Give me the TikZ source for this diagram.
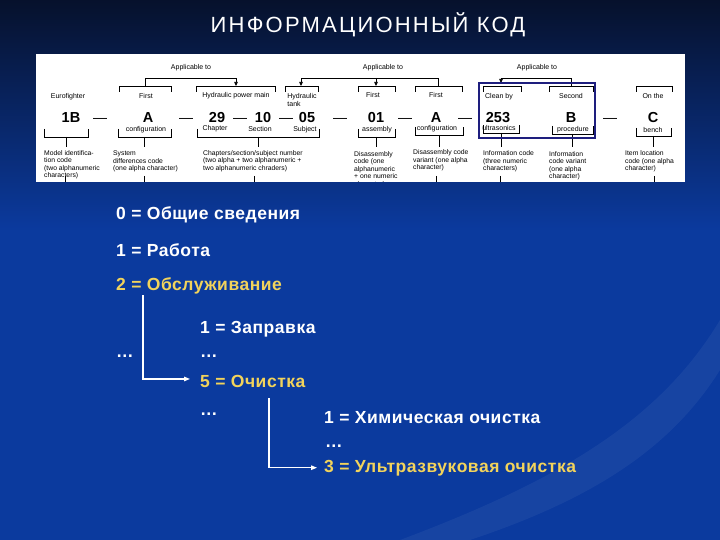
\documentclass[tikz,border=0pt]{standalone}
\usepackage{fontspec}
\setmainfont{Liberation Sans}
\usetikzlibrary{arrows.meta,positioning}
\definecolor{bgdark}{HTML}{06112C}
\definecolor{bgblue}{HTML}{0B3A9E}
\definecolor{gold}{HTML}{F2D35B}
\definecolor{navy}{HTML}{1E1E7E}

\begin{document}
\begin{tikzpicture}[x=1pt,y=-1pt,
    every node/.style={inner sep=0pt},
    lbl/.style={font=\fontsize{7}{7}\selectfont,text height=5pt,text depth=1.4pt},
    code/.style={font=\fontsize{14.5}{14.5}\selectfont\bfseries,text height=10.4pt,text depth=0pt},
    desc/.style={font=\fontsize{6.8}{7.6}\selectfont,align=left,anchor=north west},
    chart/.style={line width=.7pt},
    arr/.style={-{Triangle[length=4pt,width=3.5pt]}},
    item/.style={font=\fontsize{17.5}{17.5}\selectfont\bfseries\addfontfeature{LetterSpace=3},
      text=white,anchor=base west},
    hot/.style={item,text=gold},
    wire/.style={white,line width=1.2pt,-{Triangle[length=6pt,width=4.5pt]}}]
  \useasboundingbox (0,0) rectangle (720,540);

  % background
  \fill[bgblue] (0,0) rectangle (720,540);
  \shade[top color=bgdark,bottom color=bgblue] (0,0) rectangle (720,230);
  \fill[white,opacity=.05] (400,540) .. controls (560,480) and (660,420) .. (720,320)
    -- (720,370) .. controls (670,450) and (590,500) .. (470,540) -- cycle;

  \node[font=\fontsize{22}{22}\selectfont\addfontfeature{LetterSpace=10},text=white,anchor=base]
    (title) at (368,33) {ИНФОРМАЦИОННЫЙ КОД};

  % code chart
  \fill[white] (36,54) rectangle (685,182);
  \begin{scope}
    \clip (36,54) rectangle (685,182);

    \node[lbl] (app1) at (191,68) {Applicable to};
    \node[lbl] (app2) at (383,68) {Applicable to};
    \node[lbl] (app3) at (537,68) {Applicable to};

    \node[lbl] (tEuro) at (68,97) {Eurofighter};
    \node[lbl] (tFirst) at (146,97) {First};
    \node[lbl] (tHyd) at (236,96) {Hydraulic power main};
    \node[lbl,align=left,text height=,text depth=] (tTank) at (302,100) {Hydraulic\\tank};
    \node[lbl] (tFirstB) at (373,96) {First};
    \node[lbl] (tFirstC) at (436,96) {First};
    \node[lbl] (tClean) at (499,97) {Clean by};
    \node[lbl] (tSecond) at (571,97) {Second};
    \node[lbl] (tOn) at (653,97) {On the};

    \foreach \n/\x/\t in {c1B/71/1B,cA/148/A,c29/217/29,c10/263/10,c05/307/05,
        c01/376/01,cA2/436/A,c253/498/253,cB/571/B,cC/653/C}
      \node[code] (\n) at (\x,117) {\t};
    \foreach \x in {100,186,240,286,340,405,465,610}
      \node[code,font=\fontsize{14}{14}\selectfont] (d\x) at (\x,117) {—};

    \node[lbl] (bConf) at (146,130) {configuration};
    \node[lbl] (bChap) at (215,129) {Chapter};
    \node[lbl] (bSect) at (260,130) {Section};
    \node[lbl] (bSubj) at (305,130) {Subject};
    \node[lbl] (bAsm) at (377,130) {assembly};
    \node[lbl] (bConfB) at (437,129) {configuration};
    \node[lbl] (bUltra) at (499,129) {ultrasonics};
    \node[lbl] (bProc) at (573,130) {procedure};
    \node[lbl] (bBench) at (653,131) {bench};

    % brackets
    \foreach \a/\b in {119/171,196/275,285/318,358/395,415/462,483/521,549/593,636/672}
      \draw[chart] (\a,92) -- (\a,86) -- (\b,86) -- (\b,92);
    \foreach \a/\b/\y in {44/88/137,118/171/137,197/319/137,358/395/137,
        415/463/135,483/519/133,552/593/134,636/671/136}{
      \draw[chart] (\a,\y-8) -- (\a,\y) -- (\b,\y) -- (\b,\y-8);
      \draw[chart] ({(\a+\b)/2},\y) -- ({(\a+\b)/2},147);
    }
    \foreach \x in {65,144,254,436,500,654}
      \draw[chart] (\x,176) -- (\x,182);

    \coordinate (pA) at (145,86);
    \coordinate (pHyd) at (236,86);
    \coordinate (pTank) at (301,86);
    \coordinate (p01) at (376,86);
    \coordinate (pA2) at (438,86);
    \coordinate (pClean) at (501,83);
    \coordinate (pSec) at (571,86);
    \draw[chart,arr] (pA) -- ++(0,-8) -| (pHyd);
    \draw[chart,arr] (pA2) -- ++(0,-8) -| (pTank);
    \draw[chart,arr] ([yshift=8pt]p01) -- (p01);
    \draw[chart,arr] (pSec) -- ++(0,-8) -| (pClean);

    \draw[navy,line width=2.2pt] (479,83) rectangle (595,138);

    \node[desc] (eModel) at (44,150)
      {Model identifica-\\tion code\\(two alphanumeric\\characters)};
    \node[desc] (eSys) at (113,150.5)
      {System\\differences code\\(one alpha character)};
    \node[desc] (eChap) at (203,150)
      {Chapters/section/subject number\\(two alpha + two alphanumeric +\\two alphanumeric chraders)};
    \node[desc] (eDis) at (354,151)
      {Disassembly\\code (one\\alphanumeric\\+ one numeric\\character)};
    \node[desc] (eVar) at (413,149.5)
      {Disassembly code\\variant (one alpha\\character)};
    \node[desc] (eInfo) at (483,150.5)
      {Information code\\(three numeric\\characters)};
    \node[desc] (eInfoV) at (549,151)
      {Information\\code variant\\(one alpha\\character)};
    \node[desc] (eItem) at (625,150.5)
      {Item location\\code (one alpha\\character)};
  \end{scope}

  % breakdown
  \node[item] (gen) at (116,219) {0 = Общие сведения};
  \node[item] (work) at (116,256) {1 = Работа};
  \node[hot] (serv) at (116,290) {2 = Обслуживание};
  \node[item] (fuel) at (200,333) {1 = Заправка};
  \node[item] (dotsA) at (116,357) {…};
  \node[item] (dotsB) at (200,357) {…};
  \node[hot] (clean) at (200,387) {5 = Очистка};
  \node[item] (dotsC) at (200,415) {…};
  \node[item] (chem) at (324,423) {1 = Химическая очистка};
  \node[item] (dotsD) at (325,447) {…};
  \node[hot] (ultra) at (324,472) {3 = Ультразвуковая очистка};

  \draw[wire] ([xshift=27pt,yshift=-5pt]serv.base west) |- ([xshift=-10pt,yshift=2pt]clean.west);
  \draw[wire] ([xshift=69pt,yshift=-11pt]clean.base west) |- ([xshift=-7pt]ultra.west);
\end{tikzpicture}
\end{document}
